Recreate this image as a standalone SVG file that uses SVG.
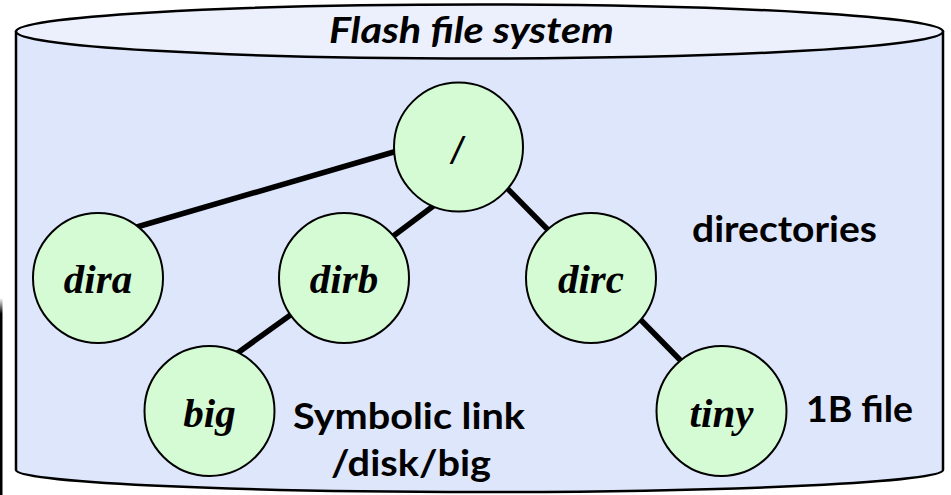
<svg xmlns="http://www.w3.org/2000/svg" width="951" height="495" viewBox="0 0 951 495">
  <defs>
    <linearGradient id="barFade" x1="0" y1="0" x2="0" y2="1">
      <stop offset="0" stop-color="#000" stop-opacity="0"/>
      <stop offset="0.08" stop-color="#000" stop-opacity="1"/>
      <stop offset="1" stop-color="#000" stop-opacity="1"/>
    </linearGradient>
    <style>
      .drum { fill: #dee6fb; stroke: #000; stroke-width: 2.5; }
      .lid { fill: #ebf0fc; stroke: #000; stroke-width: 2.5; }
      .edge { stroke: #000; stroke-width: 5.5; stroke-linecap: butt; fill: none; }
      .node circle { fill: #d4fbd4; stroke: #000; stroke-width: 2; }
      .node text { font-family: "Liberation Serif", "Times New Roman", serif; font-style: italic; font-weight: bold; font-size: 41px; text-anchor: middle; fill: #000; }
      .note { font-family: Lato, "Open Sans", "Liberation Sans", sans-serif; font-weight: bold; font-size: 37px; fill: #000; text-anchor: middle; }
      .title { font-family: Lato, "Open Sans", "Liberation Sans", sans-serif; font-weight: bold; font-style: italic; font-size: 36px; fill: #000; text-anchor: middle; }
    </style>
  </defs>

  <rect width="951" height="495" fill="#ffffff"/>

  <!-- thin dark bar at the left margin -->
  <rect x="0" y="298" width="2.5" height="197" fill="url(#barFade)"/>

  <!-- storage drum -->
  <g id="drum">
    <path class="drum" d="M16,32 V470 A463.5,22 0 0 0 943,470 V32 Z"/>
    <ellipse class="lid" cx="479.5" cy="31.5" rx="463.5" ry="27"/>
    <text class="title" x="471.5" y="43" textLength="285" lengthAdjust="spacingAndGlyphs">Flash file system</text>
  </g>

  <!-- tree edges -->
  <g id="edges">
    <line class="edge" x1="130" y1="229" x2="404" y2="149"/>
    <line class="edge" x1="388" y1="240" x2="440" y2="201"/>
    <line class="edge" x1="500" y1="181" x2="555" y2="237"/>
    <line class="edge" x1="296" y1="311" x2="232" y2="357"/>
    <line class="edge" x1="634" y1="313" x2="686" y2="366"/>
  </g>

  <g id="root" class="node">
    <circle cx="458.5" cy="147" r="64.5"/>
    <text x="457" y="164" style="font-family: 'Liberation Sans', Arial, sans-serif; font-weight: normal; font-style: italic; font-size: 38px;">/</text>
  </g>
  <g id="dira" class="node">
    <circle cx="98" cy="278" r="65"/>
    <text x="98" y="293">dira</text>
  </g>
  <g id="dirb" class="node">
    <circle cx="344" cy="278" r="65"/>
    <text x="344" y="293">dirb</text>
  </g>
  <g id="dirc" class="node">
    <circle cx="591" cy="278" r="65"/>
    <text x="591" y="293">dirc</text>
  </g>
  <g id="big" class="node">
    <circle cx="209.5" cy="411" r="65"/>
    <text x="209.5" y="427">big</text>
  </g>
  <g id="tiny" class="node">
    <circle cx="721.5" cy="411" r="65"/>
    <text x="721.5" y="427">tiny</text>
  </g>

  <!-- annotations -->
  <g id="labels">
    <text class="note" x="784.5" y="242" textLength="185" lengthAdjust="spacingAndGlyphs">directories</text>
    <text class="note" x="859.5" y="422" textLength="107" lengthAdjust="spacingAndGlyphs">1B file</text>
    <text class="note" x="409" y="429" textLength="232" lengthAdjust="spacingAndGlyphs">Symbolic link</text>
    <text class="note" x="411" y="476" textLength="160" lengthAdjust="spacingAndGlyphs">/disk/big</text>
  </g>
</svg>
